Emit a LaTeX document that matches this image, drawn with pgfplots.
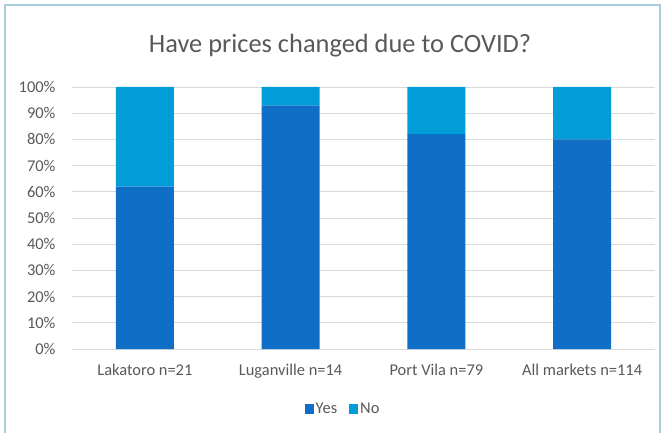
\documentclass[border=0pt]{standalone}
\usepackage{pgfplots}
\pgfplotsset{compat=1.18}
\usepackage{fontspec}
\setmainfont{Carlito}
\definecolor{yes}{HTML}{0F6FC6}
\definecolor{no}{HTML}{009DD9}
\definecolor{gridc}{HTML}{D9D9D9}
\definecolor{txt}{HTML}{595959}
\definecolor{framec}{HTML}{A9CCDA}
\begin{document}
\begin{tikzpicture}[x=1bp,y=1bp]
\path[use as bounding box] (-72,-83) rectangle (593,349);
\draw[framec, line width=1.5bp] (-67,-90) -- (-67,344) -- (588,344) -- (588,-90);
\begin{axis}[
  at={(0,0)}, anchor=south west,
  scale only axis, width=583bp, height=262bp,
  ybar stacked, bar width=58bp,
  xmin=-0.5, xmax=3.5, ymin=0, ymax=100,
  xtick=data,
  xticklabels={Lakatoro n=21, Luganville n=14, Port Vila n=79, All markets n=114},
  ytick={0,10,...,100},
  yticklabel={\pgfmathprintnumber{\tick}\%},
  /pgf/number format/assume math mode=true,
  ymajorgrids, grid style={gridc, line width=0.9bp},
  axis x line*=bottom, axis y line*=left,
  y axis line style={draw=none},
  x axis line style={gridc, line width=0.9bp, -},
  tick style={draw=none},
  ticklabel style={font=\fontsize{16.5}{18}\selectfont, text=txt},
  xticklabel style={yshift=-12bp},
  yticklabel style={xshift=-13bp},
  legend style={at={(0.465,-0.229)}, anchor=center, draw=none, fill=none,
    legend columns=2, font=\fontsize{16.5}{18}\selectfont, text=txt,
    /tikz/every even column/.append style={column sep=10bp}},
  legend image code/.code={\fill[#1] (0bp,-5bp) rectangle (9bp,5bp);},
]
\addplot[fill=yes, draw=none] coordinates {(0,62) (1,93) (2,82) (3,80)};
\addplot[fill=no, draw=none] coordinates {(0,38) (1,7) (2,18) (3,20)};
\legend{Yes, No}
\end{axis}
\node[text=txt, font=\fontsize{26.5}{30}\selectfont] at (268,303) {Have prices changed due to COVID?};
\end{tikzpicture}
\end{document}
